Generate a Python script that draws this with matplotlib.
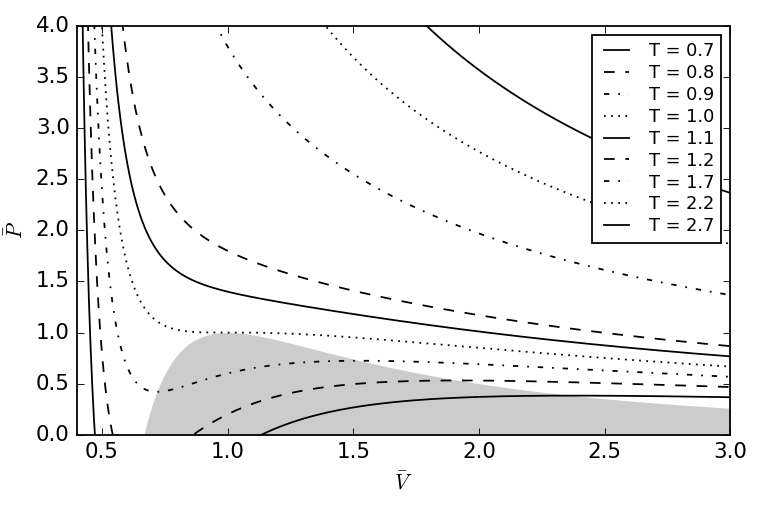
import numpy as np
import matplotlib
matplotlib.use("Agg")
import matplotlib.pyplot as plt

plt.style.use("classic")

# reduced temperatures of the van der Waals isotherms shown
temps = [0.7, 0.8, 0.9, 1.0, 1.1, 1.2, 1.7, 2.2, 2.7]
styles = ["-", "--", "-.", ":", "-", "--", "-.", ":", "-"]
labels = ["T = %.1f" % t for t in temps]

v = np.linspace(0.4, 3.0, 2000)


def vdw_pressure(v, t):
    # reduced van der Waals equation of state
    return 8.0 * t / (3.0 * v - 1.0) - 3.0 / v ** 2


fig = plt.figure(figsize=(6, 4), dpi=128, facecolor="white")
ax = fig.add_axes([0.1, 0.151, 0.851, 0.798])

# spinodal region (dP/dV > 0)
vs = np.linspace(2.0 / 3.0, 3.0, 500)
ps = (3.0 * vs - 2.0) / vs ** 3
ax.fill_between(vs, 0, ps, color="0.8", linewidth=0)

for t, ls, lab in zip(temps, styles, labels):
    ax.plot(v, vdw_pressure(v, t), color="k", linestyle=ls, label=lab)

ax.set_xlim(0.4, 3.0)
ax.set_ylim(0, 4.0)
ax.set_xticks([0.5, 1.0, 1.5, 2.0, 2.5, 3.0])
ax.set_yticks(np.arange(0, 4.01, 0.5))
ax.tick_params(labelsize=12)
ax.set_xlabel(r"$\bar{V}$", fontsize=12)
ax.set_ylabel(r"$\bar{P}$", fontsize=12)
ax.legend(loc="upper right", fontsize=10, handlelength=2.0, labelspacing=0.22)

fig.savefig("out.png", dpi=128, facecolor="white")
